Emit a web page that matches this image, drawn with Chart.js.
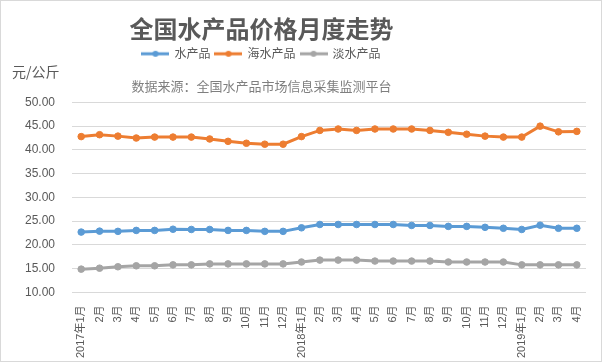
<!DOCTYPE html>
<html>
<head>
<meta charset="utf-8">
<script src="https://cdn.jsdelivr.net/npm/chart.js@4"></script>
<style>
  body { margin: 0; background: #fff; }
  canvas { display: block; }
</style>
</head>
<body>
<canvas id="myChart" width="603" height="364"></canvas>
<script>
// 月份标签
const months = ['2017年1月', '2月', '3月', '4月', '5月', '6月', '7月', '8月', '9月', '10月', '11月', '12月',
  '2018年1月', '2月', '3月', '4月', '5月', '6月', '7月', '8月', '9月', '10月', '11月', '12月',
  '2019年1月', '2月', '3月', '4月'];

// 价格 (元/公斤)
const aquatic = [22.7, 22.9, 22.85, 23.05, 23.05, 23.3, 23.25, 23.25, 23.05, 23.05, 22.85, 22.85,
  23.6, 24.3, 24.3, 24.3, 24.3, 24.3, 24.1, 24.1, 23.9, 23.9, 23.7, 23.5,
  23.25, 24.15, 23.5, 23.5];
const seawater = [42.8, 43.2, 42.9, 42.5, 42.7, 42.7, 42.7, 42.3, 41.8, 41.4, 41.2, 41.2,
  42.8, 44.1, 44.4, 44.1, 44.4, 44.4, 44.4, 44.1, 43.7, 43.3, 42.9, 42.7,
  42.7, 45.0, 43.8, 43.9];
const freshwater = [14.9, 15.1, 15.4, 15.6, 15.6, 15.8, 15.8, 16.0, 16.0, 16.0, 16.0, 16.0,
  16.4, 16.8, 16.8, 16.8, 16.6, 16.6, 16.6, 16.6, 16.4, 16.4, 16.4, 16.4,
  15.8, 15.8, 15.8, 15.8];

const yTicks = [10, 15, 20, 25, 30, 35, 40, 45, 50];

const textColor = '#595959';
const cjk = "'Liberation Sans', 'Noto Sans CJK SC', sans-serif";

// 图例的小图标: 线 + 圆点
function legendIcon(color) {
  const c = document.createElement('canvas');
  c.width = 28;
  c.height = 8;
  const g = c.getContext('2d');
  g.strokeStyle = color;
  g.lineWidth = 3;
  g.beginPath();
  g.moveTo(0, 4);
  g.lineTo(28, 4);
  g.stroke();
  g.fillStyle = color;
  g.beginPath();
  g.arc(14, 4, 3, 0, Math.PI * 2);
  g.fill();
  return c;
}

function series(label, data, color) {
  return {
    label: label,
    data: data,
    borderColor: color,
    backgroundColor: color,
    pointBackgroundColor: color,
    pointBorderColor: color,
    borderWidth: 3,
    pointRadius: 3.3,
    pointBorderWidth: 1,
    tension: 0,
    icon: legendIcon(color)
  };
}

// 把标题/图例整体往左挪一点, 和原图一样
const shiftTop = {
  id: 'shiftTop',
  afterLayout(chart) {
    chart.boxes.forEach(b => {
      if (b.position === 'top') {
        b.left = 0;
        b.right = 523;
      }
    });
  },
  afterDraw(chart) {
    const ctx = chart.ctx;
    ctx.save();
    ctx.fillStyle = textColor;
    ctx.font = "14px 'Noto Sans CJK SC', sans-serif";
    ctx.textBaseline = 'middle';
    ctx.fillText('元/公斤', 12, 72);
    ctx.strokeStyle = '#d9d9d9';
    ctx.lineWidth = 1;
    ctx.strokeRect(0.5, 0.5, 601, 361);
    ctx.restore();
  }
};

const ctx = document.getElementById('myChart').getContext('2d');

new Chart(ctx, {
  type: 'line',
  data: {
    labels: months,
    datasets: [
      series('水产品', aquatic, '#5B9BD5'),
      series('海水产品', seawater, '#ED7D31'),
      series('淡水产品', freshwater, '#A5A5A5')
    ]
  },
  options: {
    responsive: false,
    animation: false,
    layout: {
      padding: { left: 8, right: 17, top: 0, bottom: 1 }
    },
    scales: {
      x: {
        offset: true,
        grid: { display: false },
        border: { display: false },
        ticks: {
          autoSkip: false,
          minRotation: 90,
          maxRotation: 90,
          padding: 5,
          color: textColor,
          font: { family: cjk, size: 11 }
        }
      },
      y: {
        min: 10,
        max: 50,
        afterBuildTicks(axis) {
          axis.ticks = yTicks.map(v => ({ value: v }));
        },
        grid: { color: '#d9d9d9', drawTicks: false },
        border: { display: false },
        ticks: {
          padding: 17,
          color: textColor,
          font: { family: cjk, size: 12 },
          callback: v => v.toFixed(2)
        }
      }
    },
    plugins: {
      title: {
        display: true,
        text: '全国水产品价格月度走势',
        color: textColor,
        font: { family: "'Noto Sans CJK SC', sans-serif", size: 24, weight: 'bold' },
        padding: { top: 14, bottom: 0 }
      },
      legend: {
        labels: {
          usePointStyle: true,
          pointStyleWidth: 26,
          padding: 5,
          color: textColor,
          font: { family: "'Noto Sans CJK SC', sans-serif", size: 12 },
          generateLabels(chart) {
            return chart.data.datasets.map((ds, i) => ({
              text: ds.label,
              fontColor: textColor,
              pointStyle: ds.icon,
              datasetIndex: i,
              hidden: !chart.isDatasetVisible(i)
            }));
          }
        }
      },
      subtitle: {
        display: true,
        weight: 500,
        text: '数据来源：全国水产品市场信息采集监测平台',
        color: '#7f7f7f',
        font: { family: "'Noto Sans CJK SC', sans-serif", size: 13 },
        padding: { top: 8, bottom: 9 }
      },
      tooltip: { enabled: false }
    }
  },
  plugins: [shiftTop]
});
</script>
</body>
</html>
